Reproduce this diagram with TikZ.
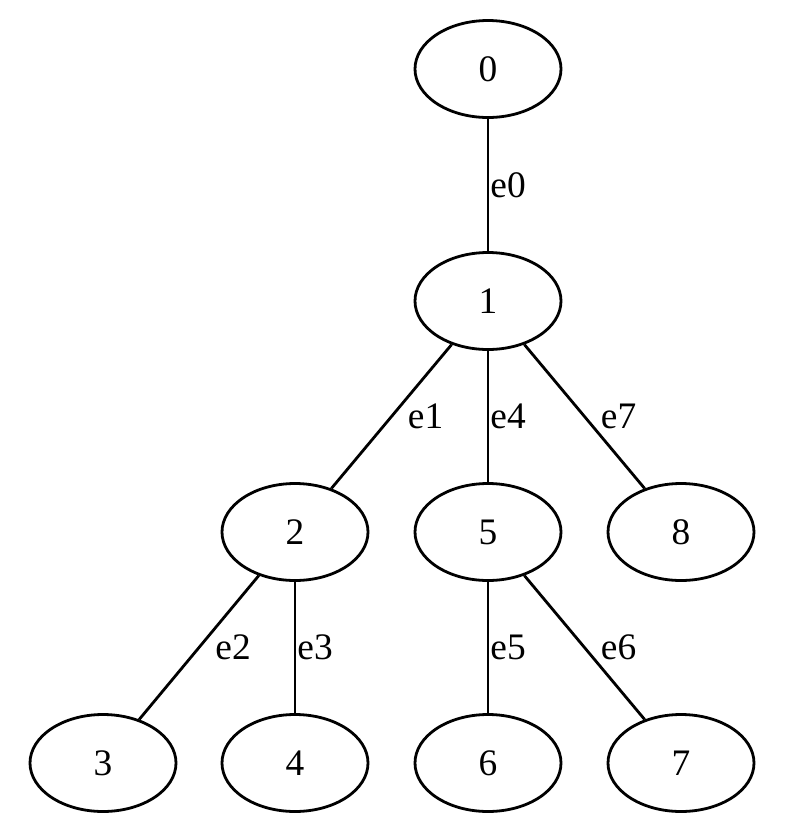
\documentclass[tikz,border=0pt]{standalone}
\usepackage{fontspec}
\setmainfont{Liberation Serif}
\usetikzlibrary{shapes.geometric,positioning}

\begin{document}
\begin{tikzpicture}[
    x=0.5pt, y=-0.5pt,
    vtx/.style={ellipse, draw, line width=1.4pt, minimum width=73pt, minimum height=48.5pt, inner sep=0pt, font=\fontsize{18.7}{22}\selectfont},
    elbl/.style={midway, anchor=west, inner sep=0.5pt, font=\fontsize{18.7}{22}\selectfont},
    dlbl/.style={elbl, xshift=7pt},
    edge/.style={line width=1.4pt}
]
\useasboundingbox (0,0) rectangle (801,837);

% tree nodes
\node (n0) at (488,69) [vtx] {0};
\node (n1) at (488,301) [vtx] {1};
\node (n2) at (295,532) [vtx] {2};
\node (n5) at (488,532) [vtx] {5};
\node (n8) at (681,532) [vtx] {8};
\node (n3) at (103,763) [vtx] {3};
\node (n4) at (295,763) [vtx] {4};
\node (n6) at (488,763) [vtx] {6};
\node (n7) at (681,763) [vtx] {7};

% edges with labels
\draw[edge] (n0) -- (n1) node[elbl] {e0};
\draw[edge] (n1) -- (n2) node[dlbl] {e1};
\draw[edge] (n1) -- (n5) node[elbl] {e4};
\draw[edge] (n1) -- (n8) node[dlbl] {e7};
\draw[edge] (n2) -- (n3) node[dlbl] {e2};
\draw[edge] (n2) -- (n4) node[elbl] {e3};
\draw[edge] (n5) -- (n6) node[elbl] {e5};
\draw[edge] (n5) -- (n7) node[dlbl] {e6};

\end{tikzpicture}
\end{document}
